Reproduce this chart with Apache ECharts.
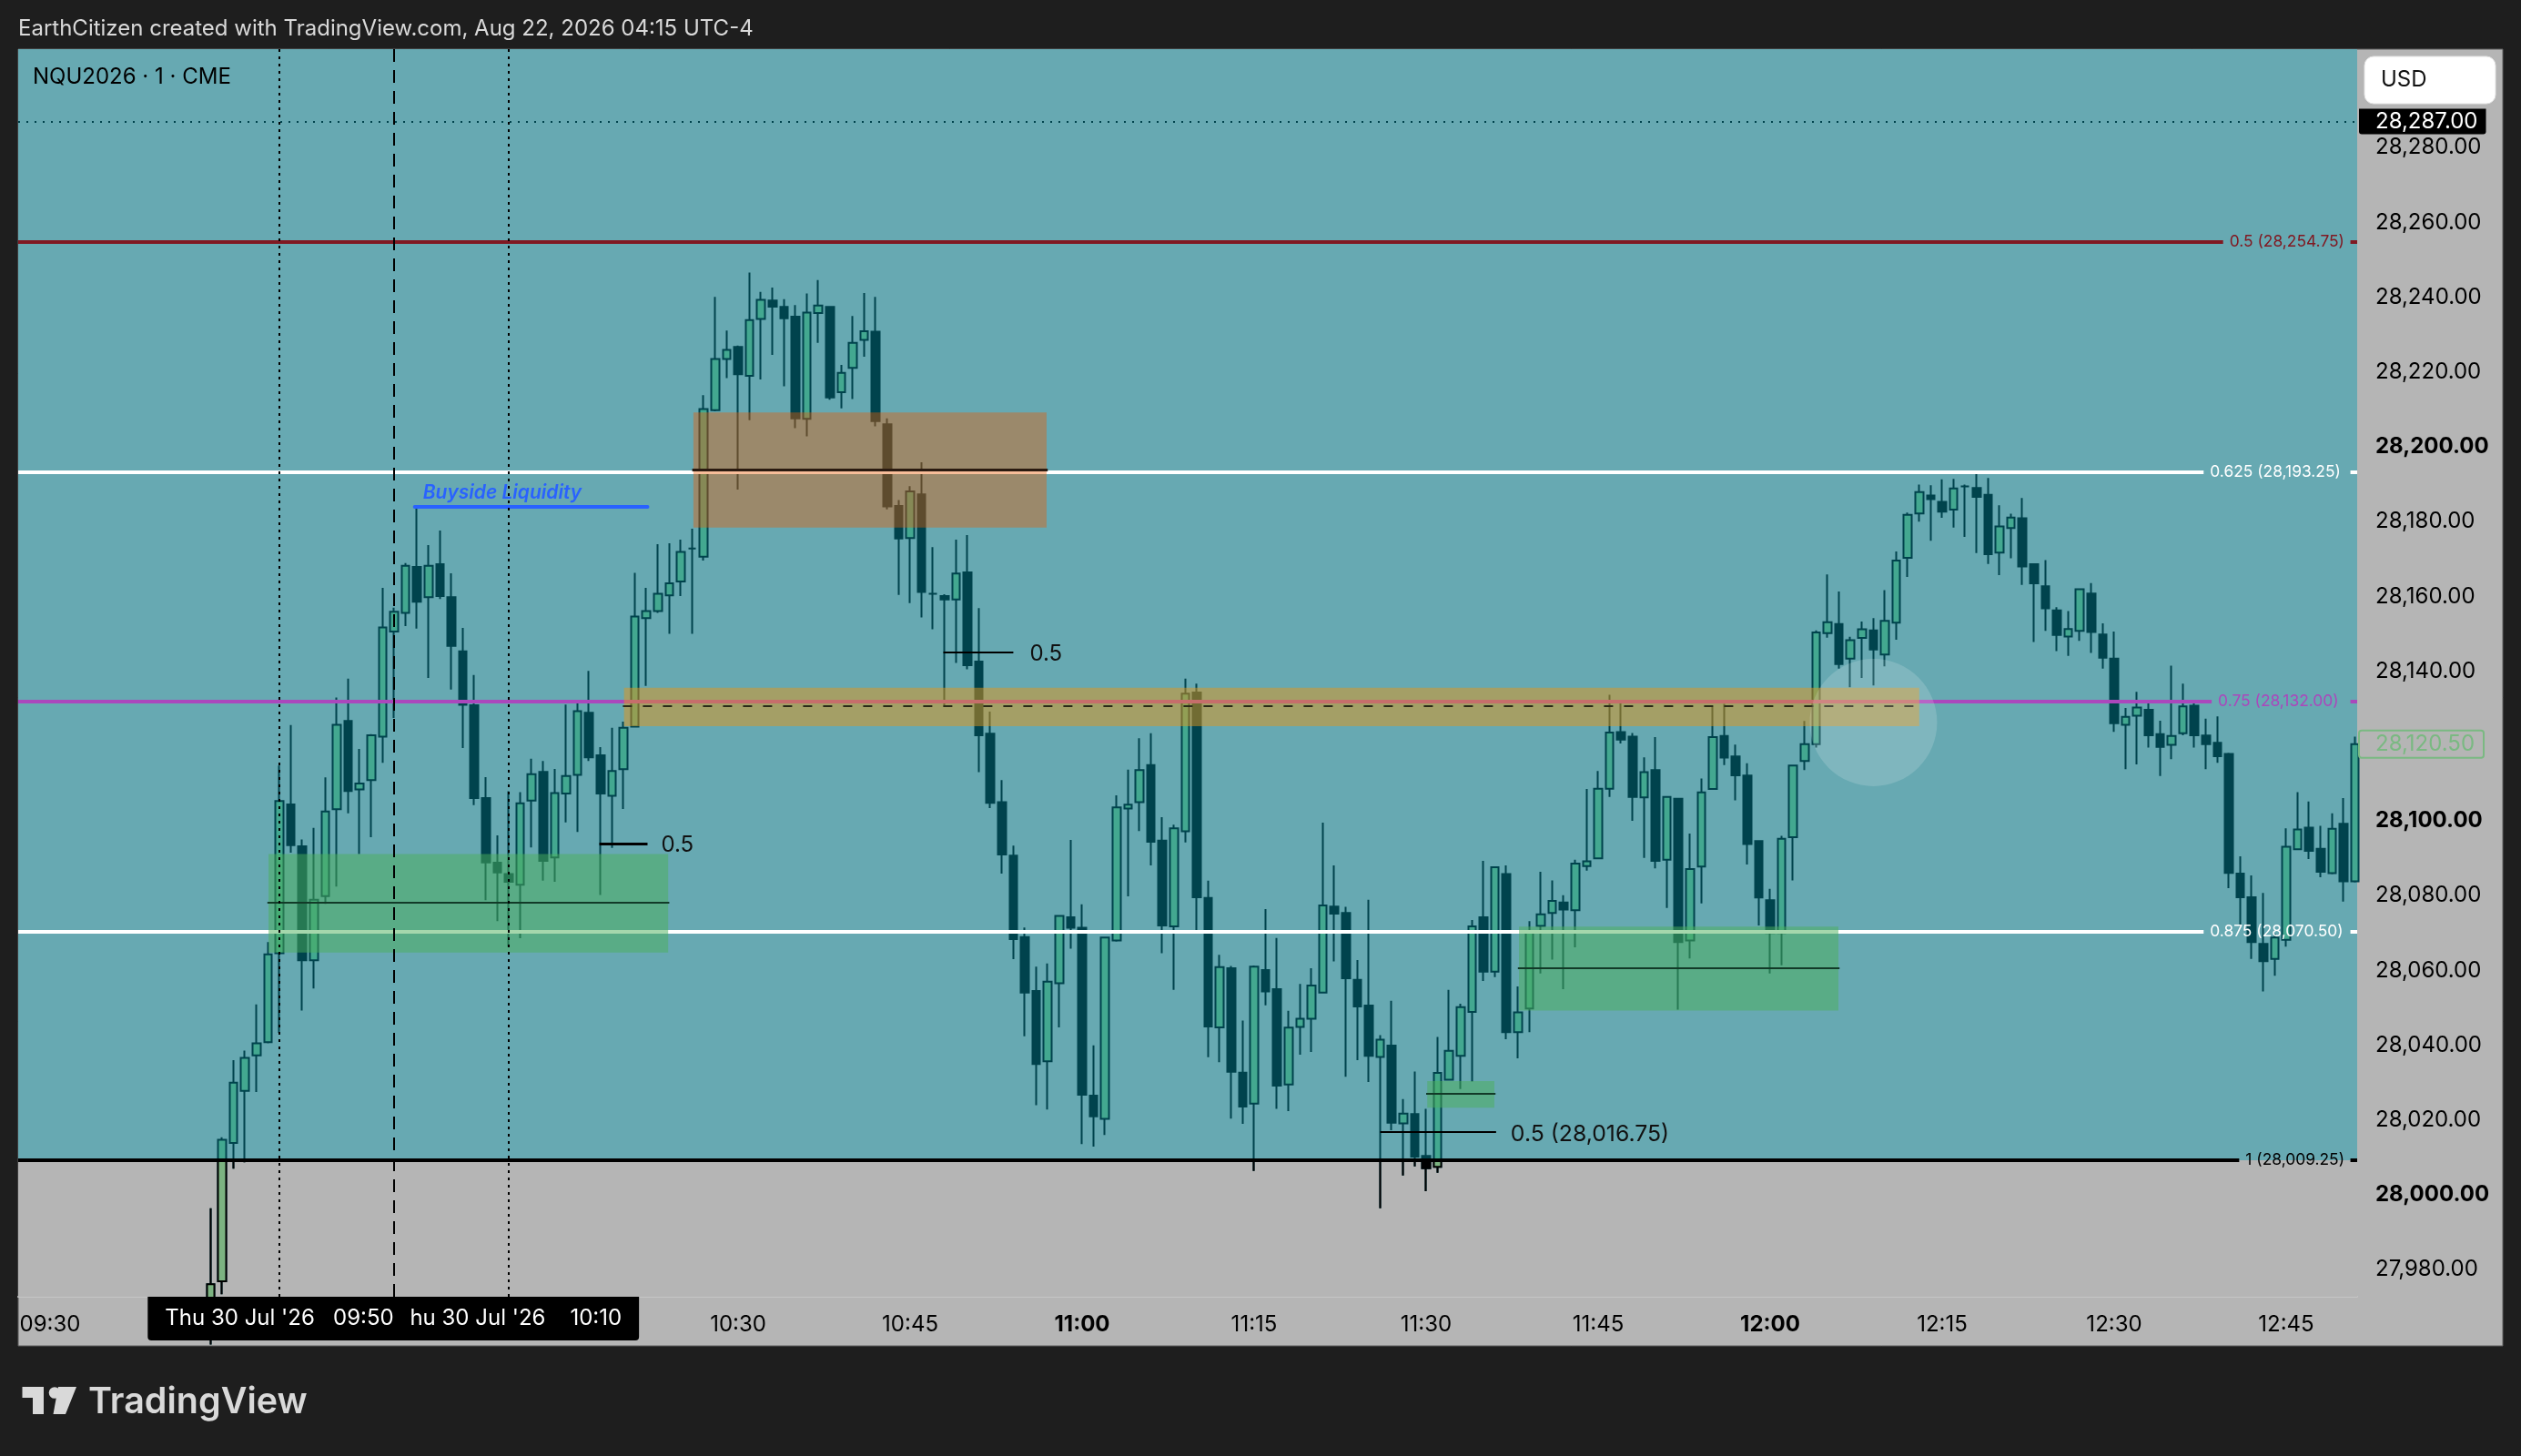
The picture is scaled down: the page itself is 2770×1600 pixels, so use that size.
<!DOCTYPE html>
<html>
<head>
<meta charset="utf-8">
<style>
html, body { margin: 0; padding: 0; background: #1e1e1e; }
#main { width: 2770px; height: 1600px; }
</style>
<script src="https://cdn.jsdelivr.net/npm/echarts@6/dist/echarts.min.js"></script>
</head>
<body>
<div id="main"></div>
<script>
// minutes after 09:30, first candle on screen is 09:44
const firstMinute = 14;
const opens = [
  27966,27976.9,28013.9,28027.8,28037.3,28040.8,28064.6,28104.4,28093.2,28062.7,
  28079.9,28103.1,28126.7,28108.4,28110.9,28122.5,28150.6,28155.6,28167.9,28159.8,
  28168.6,28159.8,28145.3,28130.9,28106.1,28088.8,28085.8,28082.9,28105.4,28113.1,
  28090.2,28107.3,28112.3,28128.9,28117.5,28106.7,28113.8,28125.2,28154.2,28156.1,
  28160.3,28164,28172.8,28170.6,28209.8,28223.5,28226.7,28219,28234.2,28239.1,
  28237.4,28234.8,28207.5,28235.8,28237.4,28214.6,28221.1,28228.6,28230.8,28206,
  28184.2,28175.6,28187.3,28160.7,28160.1,28159.2,28166.4,28142.6,28123.3,28105,
  28090.7,28068.9,28054.5,28035.7,28056.6,28074.2,28071.4,28026.5,28020.3,28068,
  28103.3,28105,28114.9,28094.7,28071.8,28097.2,28134.3,28079.4,28044.8,28060.6,
  28032.7,28024.4,28060.1,28055,28029.5,28044.9,28047.1,28054.1,28077.1,28075.4,
  28057.5,28050.6,28036.9,28039.9,28019.1,28021.6,28010.4,28007.5,28030.8,28037.2,
  28048.9,28074.2,28059.7,28085.8,28043.5,28049.8,28071.9,28075.4,28078.2,28076.1,
  28087.9,28090,28108.6,28123.7,28122.5,28106.3,28113.6,28089.6,28105.9,28068,
  28087.8,28108.5,28122.7,28117.2,28112.1,28094.6,28078.8,28070,28095.6,28116,
  28120.5,28150.2,28152.6,28143.4,28148.9,28150.9,28144.5,28153,28170.3,28182.2,
  28187,28185.3,28183.2,28189.4,28189,28187.2,28171.7,28178.3,28180.9,28168.6,
  28162.7,28156.3,28149.3,28150.8,28160.8,28149.8,28143.4,28125.7,28128.1,28129.7,
  28123.2,28120.3,28123.4,28130.8,28122.8,28120.9,28117.9,28085.9,28079.6,28067.1,
  28063.1,28068.2,28092.4,28098.2,28092.5,28086,28099.2,28083.8
];
const closes = [
  27976.1,28014.7,28030,28036.6,28040.5,28064.3,28105.3,28093.5,28062.7,28078.9,
  28102.5,28125.7,28108,28110,28122.9,28151.7,28155.9,28168.2,28158.6,28168.2,
  28160.1,28146.8,28131,28106.1,28088.9,28086.2,28083.7,28104.7,28112.5,28089.3,
  28107.4,28112,28129.3,28117,28107.3,28113.3,28124.9,28154.6,28156.1,28160.7,
  28163.5,28171.9,28172.8,28210.1,28223.5,28225.9,28219.4,28233.9,28239.3,28237.5,
  28234.4,28207.6,28235.9,28237.8,28213.2,28219.8,28227.8,28230.9,28206.9,28184.1,
  28175.5,28188.1,28161.2,28160.7,28159.2,28166.1,28141.6,28122.9,28104.8,28091,
  28068.4,28054.1,28035,28057,28074.6,28071.4,28026.8,28021,28068.8,28103.6,
  28104.3,28113.6,28094.4,28072,28098,28134,28079.6,28045,28060.9,28032.9,
  28023.6,28061,28054.4,28029.2,28044.7,28047.1,28056,28077.4,28075.2,28057.9,
  28050.4,28037.2,28041.5,28019.3,28021.7,28010.2,28007.1,28032.6,28038.5,28050.2,
  28071.8,28059.7,28087.6,28043.5,28048.8,28070.3,28075,28078.6,28076.3,28088.6,
  28089.2,28108.6,28123.6,28121.7,28106.4,28113,28089.3,28106.4,28067.6,28087.1,
  28107.6,28122.4,28116.9,28112.2,28093.8,28079.5,28070,28095.2,28114.8,28120.5,
  28150.4,28153.1,28141.9,28148.3,28151.2,28145.8,28153.5,28169.6,28181.8,28187.9,
  28186,28182.7,28188.9,28189.4,28186.6,28171.3,28178.7,28181.1,28168,28163.5,
  28156.8,28149.7,28151.3,28161.9,28150.5,28143.6,28126.1,28127.8,28130.3,28122.9,
  28119.8,28122.7,28130.6,28122.9,28120.5,28117.3,28086.1,28079.6,28067.6,28062.5,
  28068.8,28093.1,28097.7,28092,28086.4,28097.9,28083.8,28120.5
];
const lows = [
  27960,27973.4,28007,28008.7,28027.5,28040.5,28043.3,28091.5,28049.3,28055.2,
  28077.8,28082.4,28102,28091.1,28095.6,28115.5,28127.5,28152.1,28151.4,28138.2,
  28159.3,28135.1,28119.5,28104.2,28078.8,28073.2,28066.3,28068.6,28092.9,28084,
  28083.7,28099.6,28097,28116,28080.2,28092.8,28103.2,28125.2,28136.1,28155.6,
  28150,28160.1,28150,28169.6,28209.5,28218.4,28188.6,28207.1,28218,28224.6,
  28216.2,28205,28202.8,28227.8,28212.6,28210.3,28212.8,28224.1,28205.5,28183.3,
  28160.4,28158.2,28154.4,28151.2,28130.9,28142.2,28140.5,28113,28103.4,28085.9,
  28063,28042.4,28024,28022.8,28044.8,28065.8,28013.6,28012.9,28016,28067.7,
  28079.8,28097.3,28088.1,28064.6,28054.8,28094.2,28070.2,28036.8,28035.5,28020.4,
  28019,28006.4,28050.7,28023,28022.4,28037.5,28038.2,28054.1,28062.4,28031.6,
  28036,28030.2,27996.4,28017.3,28005.2,28007.6,28001,28005.9,28030.8,28028.3,
  28030.3,28057.2,28058.2,28041.6,28036.5,28043.5,28059.2,28062.9,28055,28066.2,
  28086.7,28090,28106.4,28120.7,28100,28090.1,28087.3,28076.7,28049.5,28063.2,
  28077.9,28108.5,28114.9,28105.5,28088.3,28072,28059.2,28061.4,28084.1,28113.6,
  28119.6,28149,28140.7,28135.7,28138.2,28136.2,28141.3,28148.4,28165.2,28180,
  28174.9,28181,28178.4,28175.9,28171.6,28168.7,28165.7,28170.2,28163.1,28147.8,
  28150.8,28145.4,28144.1,28148.1,28144.9,28140.7,28123.8,28113.8,28115.1,28119.6,
  28112,28116.5,28122.9,28119.6,28113.8,28115.5,28082,28071.8,28063.1,28054.4,
  28058.6,28066.4,28092.4,28089.8,28084.9,28085.7,28078.4,28083.5
];
const highs = [
  27996.4,28015.4,28036,28038.6,28050.9,28067.6,28114.8,28125.6,28095,28098.1,
  28111.6,28133,28138,28119.2,28123.2,28162.3,28157,28168.9,28184,28173.7,
  28177.6,28166.2,28151.6,28139,28111.7,28096.1,28107.9,28107.7,28116.6,28116,
  28113.9,28131.1,28131.4,28140.1,28119.7,28124.9,28126.5,28166.3,28162.3,28174,
  28174.2,28175.2,28178.1,28213.8,28240.1,28231.1,28227.1,28246.6,28241.4,28242.6,
  28239.5,28237.9,28241,28244.6,28237.6,28221.9,28235,28241.1,28240.1,28207.6,
  28185.8,28189.5,28195.9,28173.2,28160.6,28175.2,28176.4,28156.9,28129.2,28110.9,
  28093.4,28071.5,28061,28061.9,28074.7,28094.9,28077.7,28040,28068.8,28106.8,
  28113.7,28122.1,28123.4,28101,28099,28138,28136.7,28084,28064.2,28061.2,
  28046.6,28061.3,28076.4,28068.7,28049.2,28056.4,28060.6,28099.5,28088.1,28077,
  28062.8,28078.9,28042.7,28051.9,28025.6,28033,28023,28042.2,28054.8,28051.1,
  28073.5,28089.3,28087.7,28088.1,28055.7,28073.2,28086.4,28084.1,28080.1,28089.6,
  28108.5,28113.3,28133.7,28131.5,28123.5,28117,28122.4,28106.4,28105.9,28096.6,
  28111.3,28130.5,28131.3,28120.4,28115.4,28094.6,28081.8,28096,28115,28126.7,
  28150.9,28165.9,28161.3,28149.2,28153.3,28154.2,28161.7,28172,28182.4,28189.9,
  28189.7,28191.3,28191.4,28189.9,28193,28191.7,28184.4,28182.1,28186.3,28168.6,
  28169.7,28157.1,28156.1,28162.2,28163.6,28152.8,28150.6,28130.2,28134.5,28131.6,
  28126.8,28141.5,28136.7,28131.6,28127.3,28127.9,28118.2,28090.5,28085.4,28080.7,
  28069.8,28098,28107.7,28105.2,28098.7,28102,28106.1,28122.5
];

// axis
const xMin = -2.78, xMax = 201.19;
const yMin = 27972.76, yMax = 28306.33;
const priceTicks = [27980,28000,28020,28040,28060,28080,28100,28140,28160,28180,28200,28220,28240,28260,28280];
const boldPrices = [28000,28100,28200];
const timeTicks = [0,60,75,90,105,120,135,150,165,180,195];
const timeLabels = ['09:30','10:30','10:45','11:00','11:15','11:30','11:45','12:00','12:15','12:30','12:45'];
const boldTimes = ['11:00','12:00'];

// fib levels: price, label, colour, where the line breaks for the label (minutes)
const fibPrices = [28254.75,28193.25,28132,28070.5,28009.25];
const fibLabels = ['0.5 (28,254.75)','0.625 (28,193.25)','0.75 (28,132.00)','0.875 (28,070.50)','1 (28,009.25)'];
const fibColors = ['#801922','#ffffff','#ab47bc','#ffffff','#000000'];
const fibLineEnds = [189.5,187.8,188.5,187.8,190.9];
const fibResume = 200.6;

// zones: start, end, top, bottom, middle
const zoneStarts = [56.1,50.05,19.05,128.1,120.1];
const zoneEnds = [86.9,163,53.9,155.95,125.95];
const zoneTops = [28209.2,28135.6,28091.1,28071.7,28030.4];
const zoneBottoms = [28178.4,28125.3,28064.8,28049.3,28023.3];
const zoneMiddles = [28193.9,28130.7,28078.1,28060.6,28027];
const zoneColors = ['rgba(235,90,0,0.4)','rgba(225,150,25,0.5)','rgba(76,175,90,0.5)','rgba(76,175,90,0.5)','rgba(76,175,90,0.5)'];

// session marks
const sessionTimes = [40,20];
const sessionLabels = ["Thu 30 Jul '26\u00a0\u00a0\u00a0\u00a010:10","Thu 30 Jul '26\u00a0\u00a0\u00a009:50"];
const midSession = 30;

const FONT = 'Inter';
const INK = '#00434d';
const LEVEL_ONE = 28009.25;

const candles = opens.map((o, i) => [firstMinute + i, o, closes[i], lows[i], highs[i]]);
// below the 1.0 level the candles turn black on the grey part
const lowerCandles = candles
  .filter(c => c[3] < LEVEL_ONE)
  .map(c => [c[0], Math.min(c[1], LEVEL_ONE), Math.min(c[2], LEVEL_ONE), c[3], Math.min(c[4], LEVEL_ONE)]);

const fibLines = [];
fibPrices.forEach((p, i) => {
  const ls = { color: fibColors[i], width: 4, type: 'solid' };
  fibLines.push([
    { coord: [xMin, p], lineStyle: ls,
      label: { show: true, position: 'end', distance: 7, formatter: fibLabels[i], color: fibColors[i], fontFamily: FONT, fontSize: 17.4 } },
    { coord: [fibLineEnds[i], p] }
  ]);
  fibLines.push([{ coord: [fibResume, p], lineStyle: ls, label: { show: false } }, { coord: [xMax, p] }]);
});

const zoneAreas = zoneStarts.map((s, i) => [
  { coord: [s, zoneTops[i]], itemStyle: { color: zoneColors[i] } },
  { coord: [zoneEnds[i], zoneBottoms[i]] }
]);
const zoneLines = zoneStarts.map((s, i) => [
  { coord: [s - 0.1, zoneMiddles[i]],
    lineStyle: i === 1 ? { color: '#2b2a18', width: 2, type: [10, 12] }
      : { color: i === 0 ? '#2a1a10' : '#123a28', width: i === 0 ? 3 : 2, type: 'solid' } },
  { coord: [zoneEnds[i] + 0.1, zoneMiddles[i]] }
]);

const sessionLines = sessionTimes.map((t, i) => [
  { coord: [t, yMin], lineStyle: { color: '#000', width: 2, type: [3, 5] },
    label: { show: true, position: 'start', distance: 0, formatter: sessionLabels[i], color: '#fff', fontFamily: FONT, fontSize: 24,
      backgroundColor: '#000', padding: [12, 19, 12, 19], borderRadius: [0, 0, 4, 4] } },
  { coord: [t, yMax] }
]);
sessionLines.push([
  { coord: [midSession, yMin], lineStyle: { color: '#000', width: 2, type: [14, 9] }, label: { show: false } },
  { coord: [midSession, yMax] }
]);

const measureLines = [
  [{ coord: [47.9, 28093.9], lineStyle: { color: '#000', width: 3, type: 'solid' },
     label: { show: true, position: 'end', distance: 15, offset: [0, 2], formatter: '0.5', color: '#111', fontFamily: FONT, fontSize: 24 } },
   { coord: [52.1, 28093.9] }],
  [{ coord: [77.9, 28145.1], lineStyle: { color: '#000', width: 2, type: 'solid' },
     label: { show: true, position: 'end', distance: 18, offset: [0, 2], formatter: '0.5', color: '#111', fontFamily: FONT, fontSize: 24 } },
   { coord: [84, 28145.1] }],
  [{ coord: [116, 28016.75], lineStyle: { color: '#000', width: 2, type: 'solid' },
     label: { show: true, position: 'end', distance: 16, offset: [0, 2], formatter: '0.5 (28,016.75)', color: '#111', fontFamily: FONT, fontSize: 24.8 } },
   { coord: [126.1, 28016.75] }],
  [{ coord: [31.8, 28183.9], lineStyle: { color: '#2962ff', width: 4, type: 'solid', cap: 'round' },
     label: { show: true, position: 'insideStartTop', distance: 5, formatter: 'Buyside Liquidity', color: '#2962ff',
       fontFamily: FONT, fontSize: 21, fontStyle: 'italic', fontWeight: 600, align: 'left', padding: [0, 0, 0, 4] } },
   { coord: [52.1, 28183.9] }]
];

const priceTags = [
  [{ coord: [xMin, 28287], lineStyle: { color: INK, width: 2, type: [2, 7] },
     label: { show: true, position: 'end', distance: 2, formatter: '28,287.00', color: '#fff', fontFamily: FONT, fontSize: 24,
       backgroundColor: '#000', padding: [2, 9, 2, 18], borderRadius: [0, 0, 3, 3] } },
   { coord: [xMax, 28287] }],
  [{ coord: [xMax - 0.5, 28120.5], lineStyle: { color: 'transparent', width: 0 },
     label: { show: true, position: 'end', distance: 2, formatter: '28,120.50', color: '#7ab982', fontFamily: FONT, fontSize: 24,
       borderColor: '#7ab982', borderWidth: 2, borderRadius: 3, padding: [3, 10, 3, 18] } },
   { coord: [xMax, 28120.5] }]
];

const boldRich = { b: { fontFamily: FONT, fontSize: 24, fontWeight: 'bold', color: '#000' } };

const option = {
  animation: false,
  backgroundColor: '#1e1e1e',
  textStyle: { fontFamily: FONT },
  grid: { left: 20, top: 54, width: 2570, height: 1371, show: true, backgroundColor: '#67a9b2', borderWidth: 0 },
  xAxis: {
    type: 'value', min: xMin, max: xMax,
    axisLine: { show: true, lineStyle: { color: '#c6c6c6', width: 2 } },
    axisTick: { show: false },
    splitLine: { show: false },
    axisLabel: {
      customValues: timeTicks, margin: 19, color: '#000', fontFamily: FONT, fontSize: 24,
      rich: boldRich,
      formatter: v => {
        const s = timeLabels[timeTicks.indexOf(v)];
        return boldTimes.includes(s) ? '{b|' + s + '}' : s;
      }
    }
  },
  yAxis: {
    type: 'value', position: 'right', min: yMin, max: yMax,
    axisLine: { show: false },
    axisTick: { show: false },
    splitLine: { show: false },
    axisLabel: {
      customValues: priceTicks, margin: 20, color: '#000', fontFamily: FONT, fontSize: 24,
      rich: boldRich,
      formatter: v => {
        const s = v.toLocaleString('en-US', { minimumFractionDigits: 2 });
        return boldPrices.includes(v) ? '{b|' + s + '}' : s;
      }
    }
  },
  graphic: [
    { type: 'rect', z: -10, shape: { x: 20, y: 54, width: 2730, height: 1425 }, style: { fill: '#b5b5b5', stroke: '#5c5c5c', lineWidth: 1 } },
    { type: 'text', z: 20, x: 20, y: 32, style: { text: 'EarthCitizen created with TradingView.com, Aug 22, 2026 04:15 UTC-4', fill: '#d9d9d9', font: '24px ' + FONT, textVerticalAlign: 'middle' } },
    { type: 'text', z: 20, x: 36, y: 85, style: { text: 'NQU2026 \u00b7 1 \u00b7 CME', fill: '#000', font: '24px ' + FONT, textVerticalAlign: 'middle' } },
    { type: 'rect', z: 20, shape: { x: 2598, y: 62, width: 144, height: 52, r: 10 }, style: { fill: '#fff', stroke: '#e2e2e2', lineWidth: 1 } },
    { type: 'text', z: 21, x: 2616, y: 88, style: { text: 'USD', fill: '#111', font: '24px ' + FONT, textVerticalAlign: 'middle' } },
    { type: 'polygon', z: 20, shape: { points: [[24.5,1524],[48,1524],[48,1554],[36,1554],[36,1536],[24.5,1536]] }, style: { fill: '#d9d9d9' } },
    { type: 'circle', z: 20, shape: { cx: 60, cy: 1530.5, r: 6.3 }, style: { fill: '#d9d9d9' } },
    { type: 'polygon', z: 20, shape: { points: [[64,1524],[84,1524],[72,1554],[58.5,1554]] }, style: { fill: '#d9d9d9' } },
    { type: 'text', z: 20, x: 97, y: 1541, style: { text: 'TradingView', fill: '#d9d9d9', font: '600 39.5px ' + FONT, textVerticalAlign: 'middle' } }
  ],
  series: [
    {
      name: 'below level', type: 'line', data: [], silent: true,
      markArea: { silent: true, z: 1, data: [[{ coord: [xMin, LEVEL_ONE], itemStyle: { color: '#b5b5b5' } }, { coord: [xMax, yMin] }]] }
    },
    {
      name: 'NQU2026', type: 'candlestick', z: 2, barWidth: 9, data: candles,
      itemStyle: { color: '#43a890', color0: INK, borderColor: INK, borderColor0: INK, borderColorDoji: INK, borderWidth: 2 }
    },
    {
      name: 'NQU2026 lower', type: 'candlestick', z: 2, barWidth: 9, data: lowerCandles,
      itemStyle: { color: '#7cb381', color0: '#000', borderColor: '#000', borderColor0: '#000', borderColorDoji: '#000', borderWidth: 2 }
    },
    {
      name: 'fib', type: 'line', data: [], silent: true,
      markLine: { silent: true, z: 3, symbol: 'none', data: fibLines }
    },
    {
      name: 'zones', type: 'line', data: [], silent: true,
      markArea: { silent: true, z: 4, data: zoneAreas },
      markLine: { silent: true, z: 5, symbol: 'none', label: { show: false }, data: zoneLines }
    },
    {
      name: 'highlight', type: 'scatter', z: 6, silent: true, symbolSize: 140,
      data: [[159, 28126.3]], itemStyle: { color: 'rgba(255,255,255,0.2)' }
    },
    {
      name: 'drawings', type: 'line', data: [], silent: true,
      markLine: { silent: true, z: 7, symbol: 'none', data: measureLines.concat(priceTags) }
    },
    {
      name: 'session', type: 'line', data: [], silent: true,
      markLine: { silent: true, z: 8, symbol: 'none', data: sessionLines }
    }
  ]
};

const chart = echarts.init(document.getElementById('main'), null, { width: 2770, height: 1600 });
chart.setOption(option);
</script>
</body>
</html>
